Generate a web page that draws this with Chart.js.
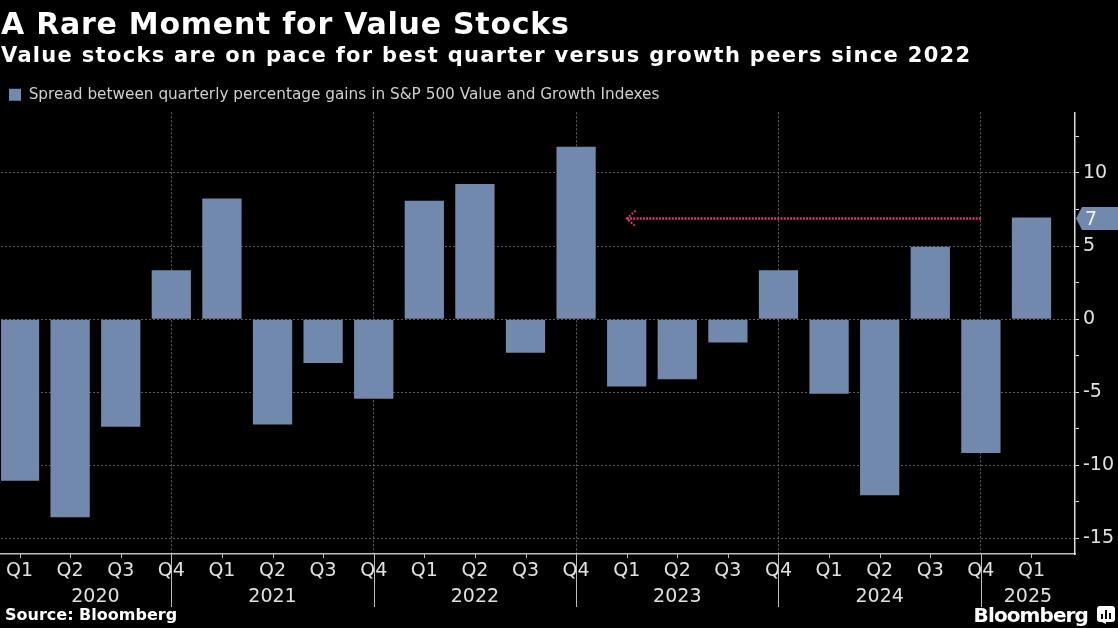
<!DOCTYPE html>
<html>
<head>
<meta charset="utf-8">
<script src="https://cdn.jsdelivr.net/npm/chart.js@4.4.1/dist/chart.umd.min.js"></script>
<style>
  body { margin: 0; background: #000; }
  #wrap { position: relative; width: 1118px; height: 628px; overflow: hidden; background: #000; }
  #chart { position: absolute; left: 0; top: 0; }
  .txt { position: absolute; color: #fff; font-family: "DejaVu Sans", sans-serif; font-weight: bold; white-space: nowrap; z-index: 2; }
  #title { left: 1px; top: 9px; font-size: 30px; line-height: 30px; letter-spacing: 0.75px; }
  #subtitle { left: 1px; top: 45px; font-size: 21px; line-height: 21px; letter-spacing: 1.3px; }
  #source { left: 5px; top: 607px; font-size: 16px; line-height: 16px; }
  #logo { right: 3px; top: 604px; font-size: 20px; line-height: 22px; letter-spacing: -0.9px; display: flex; align-items: center; gap: 9px; }
</style>
</head>
<body>
<div id="wrap">
  <div id="title" class="txt">A Rare Moment for Value Stocks</div>
  <div id="subtitle" class="txt">Value stocks are on pace for best quarter versus growth peers since 2022</div>
  <canvas id="chart" width="1118" height="628"></canvas>
  <div id="source" class="txt">Source: Bloomberg</div>
  <div id="logo" class="txt">Bloomberg
    <svg width="18" height="18" viewBox="0 0 18 18">
      <rect x="0" y="0" width="18" height="16" rx="3" fill="#fff"/>
      <path d="M5 16 L9 18 L9 16 Z" fill="#fff"/>
      <rect x="4" y="8" width="2" height="5" fill="#000"/>
      <rect x="8" y="4" width="2" height="9" fill="#000"/>
      <rect x="12" y="7" width="2" height="6" fill="#000"/>
    </svg>
  </div>
</div>
<script>
const quarters = ["Q1", "Q2", "Q3", "Q4", "Q1", "Q2", "Q3", "Q4", "Q1", "Q2", "Q3", "Q4",
  "Q1", "Q2", "Q3", "Q4", "Q1", "Q2", "Q3", "Q4", "Q1"];
const years = ["2020", "2021", "2022", "2023", "2024", "2025"];
// spread between S&P 500 Value and Growth quarterly % gains
const spread = [-11.05, -13.55, -7.35, 3.35, 8.25, -7.2, -3.0, -5.45, 8.1, 9.25, -2.3, 11.8,
  -4.6, -4.1, -1.6, 3.35, -5.1, -12.05, 4.95, -9.15, 6.95];
const yTicks = [-15, -10, -5, 0, 5, 10];
const arrowFrom = 19; // Q4 2024
const arrowTo = 12;   // Q1 2023

const barColor = "#7189ad";
const gridColor = "#5e5e5e";
const labelFont = "'DejaVu Sans', sans-serif";

const extras = {
  id: "extras",
  afterDraw(chart) {
    const { ctx, chartArea } = chart;
    const x = chart.scales.x;
    const y = chart.scales.y;
    ctx.save();

    // quarter tick marks, long ones at Q4 as year separators
    ctx.strokeStyle = "#bdbdbd";
    ctx.lineWidth = 1;
    quarters.forEach((q, i) => {
      const px = Math.round(x.getPixelForValue(i)) + 0.5;
      const len = q === "Q4" ? 53 : 4;
      ctx.beginPath();
      ctx.moveTo(px, chartArea.bottom);
      ctx.lineTo(px, chartArea.bottom + len);
      ctx.stroke();
    });

    // year labels centred between separators
    const bounds = [0];
    quarters.forEach((q, i) => { if (q === "Q4") bounds.push(i); });
    bounds.push(x.max);
    ctx.fillStyle = "#e0e0e0";
    ctx.font = "19px " + labelFont;
    ctx.textAlign = "center";
    ctx.textBaseline = "middle";
    years.forEach((yr, k) => {
      const px = x.getPixelForValue((bounds[k] + bounds[k + 1]) / 2);
      ctx.fillText(yr, px, chartArea.bottom + 43);
    });

    // dotted arrow from latest value back to the comparison quarter
    const last = spread[spread.length - 1];
    const ay = y.getPixelForValue(last) + 1;
    const x0 = x.getPixelForValue(arrowFrom);
    const x1 = x.getPixelForValue(arrowTo);
    ctx.strokeStyle = "#e0327a";
    ctx.lineWidth = 2.5;
    ctx.setLineDash([2, 1.2]);
    ctx.beginPath();
    ctx.moveTo(x0, ay);
    ctx.lineTo(x1, ay);
    ctx.stroke();
    ctx.lineWidth = 2;
    ctx.setLineDash([2, 1.5]);
    ctx.beginPath();
    ctx.moveTo(x1 + 9, ay - 8);
    ctx.lineTo(x1, ay);
    ctx.lineTo(x1 + 8, ay + 7);
    ctx.stroke();
    ctx.setLineDash([]);

    // value tag on the right axis
    const tx = chartArea.right + 1;
    ctx.fillStyle = barColor;
    ctx.beginPath();
    ctx.moveTo(tx, ay);
    ctx.lineTo(tx + 6, ay - 11.5);
    ctx.lineTo(chart.width, ay - 11.5);
    ctx.lineTo(chart.width, ay + 11.5);
    ctx.lineTo(tx + 6, ay + 11.5);
    ctx.closePath();
    ctx.fill();
    ctx.fillStyle = "#f2f2f2";
    ctx.font = "19px " + labelFont;
    ctx.textAlign = "left";
    ctx.fillText(String(Math.round(last)), tx + 9, ay + 1);

    ctx.restore();
  },
};

const ctx = document.getElementById("chart").getContext("2d");
new Chart(ctx, {
  type: "bar",
  data: {
    datasets: [
      {
        label: "Spread between quarterly percentage gains in S&P 500 Value and Growth Indexes",
        data: spread.map((v, i) => ({ x: i, y: v })),
        backgroundColor: barColor,
        borderWidth: 0,
        barPercentage: 0.776,
        categoryPercentage: 1,
      },
    ],
  },
  options: {
    responsive: false,
    animation: false,
    devicePixelRatio: 1,
    layout: { padding: { top: 78, left: 0, right: 0, bottom: 0 } },
    plugins: {
      legend: {
        position: "top",
        align: "start",
        labels: {
          boxWidth: 12,
          boxHeight: 12,
          padding: 9,
          color: "#cfcfcf",
          font: { family: labelFont, size: 15.3 },
        },
      },
      tooltip: { enabled: false },
    },
    scales: {
      x: {
        type: "linear",
        min: -0.365,
        max: 20.86,
        offset: false,
        afterBuildTicks: (scale) => {
          scale.ticks = quarters.map((q, i) => ({ value: i }));
        },
        afterFit: (scale) => { scale.height = 74; },
        ticks: {
          autoSkip: false,
          maxRotation: 0,
          includeBounds: false,
          padding: 6,
          color: "#e0e0e0",
          font: { family: labelFont, size: 19 },
          callback: (v) => quarters[v],
        },
        grid: {
          offset: false,
          drawTicks: false,
          color: (c) => (c.tick && quarters[c.tick.value] === "Q4" ? gridColor : "transparent"),
        },
        border: { display: true, color: "#bdbdbd", width: 1.5, dash: [2, 2] },
      },
      y: {
        position: "right",
        min: -16.06,
        max: 14.15,
        afterFit: (scale) => { scale.width = 43; },
        ticks: {
          stepSize: 2.5,
          includeBounds: false,
          padding: 4,
          color: "#e0e0e0",
          font: { family: labelFont, size: 19 },
          callback: (v) => (yTicks.includes(v) ? String(v) : ""),
        },
        grid: {
          drawTicks: true,
          tickLength: 4,
          tickColor: "#dddddd",
          color: (c) => (c.tick && yTicks.includes(c.tick.value) ? gridColor : "transparent"),
        },
        border: { display: true, color: "#dddddd", width: 1.5, dash: [2, 2] },
      },
    },
  },
  plugins: [extras],
});
</script>
</body>
</html>
